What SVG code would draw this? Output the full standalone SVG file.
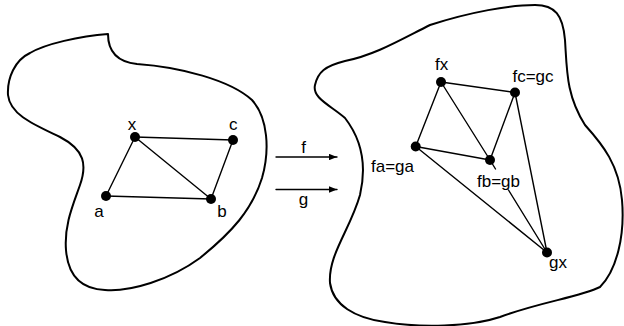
<svg xmlns="http://www.w3.org/2000/svg" width="624" height="326" viewBox="0 0 624 326">
<style>
.blob{fill:none;stroke:#000;stroke-width:2;stroke-linejoin:round}
.edge{stroke:#000;stroke-width:1.4;fill:none;stroke-linecap:round}
.dot{fill:#000}
.lbl{font-family:"Liberation Sans",Arial,sans-serif;font-size:17px;fill:#000;text-anchor:middle}
</style>
<defs>
<marker id="ah" viewBox="0 0 10 8" refX="10" refY="4" markerWidth="8" markerHeight="6.4" markerUnits="userSpaceOnUse" orient="auto">
<path d="M0,0 L10,4 L0,8 Z" fill="#000"/>
</marker>
</defs>
<g id="spaces">
<path id="domain" class="blob" d="M108,34 C108,52 118,62 137,64 C180,67 230,80 252,100 C268,118 270,150 262,178 C252,210 232,232 200,258 C170,280 130,292 105,290 C80,289 68,275 66,250 C64,225 73,205 80,185 C87,165 85,150 60,137 C35,125 10,115 8,95 C7,78 15,60 30,53 C45,44 80,36 108,34 Z"/>
<path id="codomain" class="blob" d="M315,85 C318,72 325,66 345,61 C375,55 400,40 430,25 C470,12 510,5 535,5 C555,5 563,15 565,40 C567,70 566,95 585,125 C603,145 619,165 622,200 C625,235 617,270 600,287 C580,297 540,302 500,317 C470,327 420,328 385,322 C355,318 333,305 330,283 C328,255 350,230 360,195 C367,165 362,140 345,118 C330,105 312,98 315,85 Z"/>
</g>
<g id="connectors">
<line class="edge" x1="135" y1="137" x2="233" y2="140"/>
<line class="edge" x1="135" y1="137" x2="106" y2="196"/>
<line class="edge" x1="135" y1="137" x2="211" y2="199"/>
<line class="edge" x1="106" y1="196" x2="211" y2="199"/>
<line class="edge" x1="233" y1="140" x2="211" y2="199"/>
<line class="edge" x1="441" y1="82" x2="515" y2="92.5"/>
<line class="edge" x1="441" y1="82" x2="415.7" y2="146.5"/>
<line class="edge" x1="441" y1="82" x2="490" y2="160"/>
<line class="edge" x1="415.7" y1="146.5" x2="490" y2="160"/>
<line class="edge" x1="515" y1="92.5" x2="490" y2="160"/>
<line class="edge" x1="415.7" y1="146.5" x2="547" y2="252.5"/>
<line class="edge" x1="515" y1="92.5" x2="547" y2="252.5"/>
<line class="edge" x1="490" y1="160" x2="495.5" y2="169"/>
<line class="edge" x1="508.5" y1="190" x2="547" y2="252.5"/>
<g id="arrow-f"><line class="edge" x1="276" y1="157" x2="337" y2="157" marker-end="url(#ah)"/><text class="lbl" x="303.5" y="153">f</text></g>
<g id="arrow-g"><line class="edge" x1="276" y1="189.5" x2="337" y2="189.5" marker-end="url(#ah)"/><text class="lbl" x="303.5" y="205">g</text></g>
</g>
<g id="node-x"><circle class="dot" cx="135" cy="137" r="5"/><text class="lbl" x="132" y="129.5">x</text></g>
<g id="node-c"><circle class="dot" cx="233" cy="140" r="5"/><text class="lbl" x="233.3" y="129.5">c</text></g>
<g id="node-a"><circle class="dot" cx="106" cy="196" r="5"/><text class="lbl" x="99" y="216.5">a</text></g>
<g id="node-b"><circle class="dot" cx="211" cy="199" r="5"/><text class="lbl" x="222" y="216.5">b</text></g>
<g id="node-fx"><circle class="dot" cx="441" cy="82" r="5"/><text class="lbl" x="441.7" y="70">fx</text></g>
<g id="node-fc"><circle class="dot" cx="515" cy="92.5" r="5"/><text class="lbl" x="533" y="82">fc=gc</text></g>
<g id="node-fa"><circle class="dot" cx="415.7" cy="146.5" r="5"/><text class="lbl" x="392.5" y="171.5">fa=ga</text></g>
<g id="node-fb"><circle class="dot" cx="490" cy="160" r="5"/><text class="lbl" x="498.5" y="186.5">fb=gb</text></g>
<g id="node-gx"><circle class="dot" cx="547" cy="252.5" r="5"/><text class="lbl" x="558" y="268">gx</text></g>
</svg>
